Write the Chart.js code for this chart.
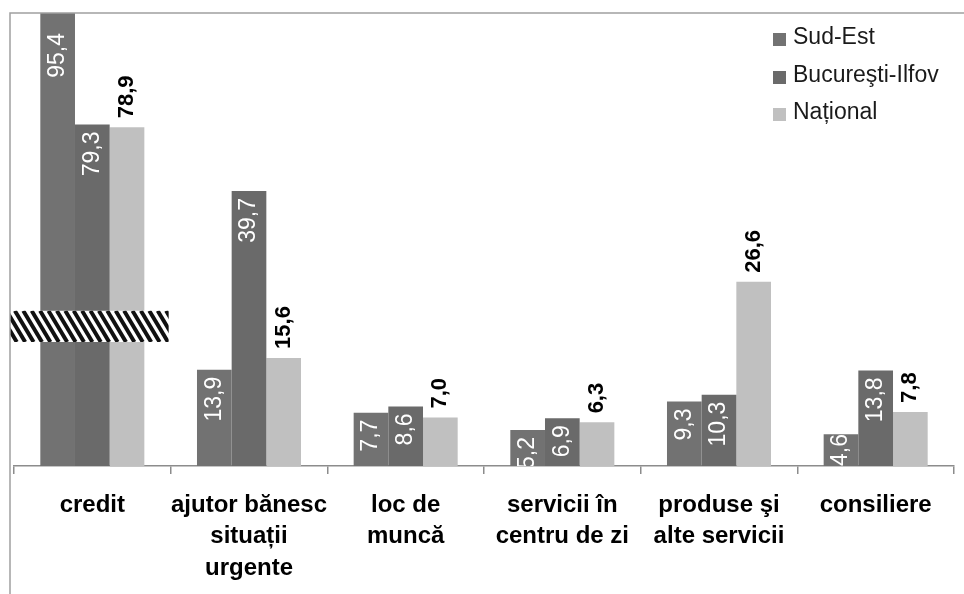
<!DOCTYPE html>
<html>
<head>
<meta charset="utf-8">
<script src="https://cdn.jsdelivr.net/npm/chart.js@4.4.1/dist/chart.umd.min.js"></script>
<style>
  html, body { margin: 0; padding: 0; background: #ffffff; }
  #wrap { width: 964px; height: 594px; position: relative; }
</style>
</head>
<body>
<div id="wrap"><canvas id="c" width="964" height="594"></canvas></div>
<script>
// ---- data ----
const categories = [
  ["credit"],
  ["ajutor bănesc", "situații", "urgente"],
  ["loc de", "muncă"],
  ["servicii în", "centru de zi"],
  ["produse şi", "alte servicii"],
  ["consiliere"]
];
const seriesNames = ["Sud-Est", "Bucureşti-Ilfov", "Național"];
const sudEst    = [95.4, 13.9, 7.7, 5.2, 9.3, 4.6];
const bucuresti = [79.3, 39.7, 8.6, 6.9, 10.3, 13.8];
const national  = [78.9, 15.6, 7.0, 6.3, 26.6, 7.8];
// broken axis: the "credit" bars are drawn shortened by this amount
const brokenCategory = 0;
const breakOffset = 30;
const breakBand = [17.9, 22.4];
const axisMax = 65.4;

const colors = ["#727272", "#6a6a6a", "#c0c0c0"];

function shown(arr) {
  return arr.map((v, i) => i === brokenCategory ? v - breakOffset : v);
}
function fmt(v) { return v.toFixed(1).replace('.', ','); }

const realValues = [sudEst, bucuresti, national];

const framePlugin = {
  id: 'frame',
  afterDraw(chart) {
    const ctx = chart.ctx;
    const a = chart.chartArea;
    ctx.save();
    ctx.strokeStyle = '#a0a0a0';
    ctx.lineWidth = 1.5;
    ctx.beginPath();
    ctx.moveTo(a.left - 4, chart.height);
    ctx.lineTo(a.left - 4, a.top);
    ctx.lineTo(chart.width, a.top);
    ctx.stroke();
    ctx.restore();
  }
};

const hatchPlugin = {
  id: 'hatch',
  afterDatasetsDraw(chart) {
    const ctx = chart.ctx;
    const y = chart.scales.y, x = chart.scales.x;
    const a = chart.chartArea;
    const yTop = y.getPixelForValue(breakBand[1]);
    const yBot = y.getPixelForValue(breakBand[0]);
    const xL = a.left - 4;
    const xR = (x.getPixelForValue(brokenCategory) + x.getPixelForValue(brokenCategory + 1)) / 2 - 2;
    ctx.save();
    ctx.beginPath();
    ctx.rect(xL, yTop, xR - xL, yBot - yTop);
    ctx.fillStyle = '#ffffff';
    ctx.fill();
    ctx.clip();
    ctx.strokeStyle = '#111111';
    ctx.lineWidth = 4;
    const h = yBot - yTop;
    const dx = h * 0.6;
    for (let sx = xL - dx - 10; sx < xR + 10; sx += 8.4) {
      ctx.beginPath();
      ctx.moveTo(sx, yTop);
      ctx.lineTo(sx + dx, yBot);
      ctx.stroke();
    }
    ctx.restore();
  }
};

const labelPlugin = {
  id: 'barLabels',
  afterDatasetsDraw(chart) {
    const ctx = chart.ctx;
    const a = chart.chartArea;
    chart.data.datasets.forEach((ds, di) => {
      const meta = chart.getDatasetMeta(di);
      meta.data.forEach((bar, i) => {
        const real = realValues[di][i];
        const txt = fmt(real);
        ctx.save();
        if (di < 2) {
          ctx.beginPath();
          ctx.rect(a.left, a.top, a.right - a.left, a.bottom - a.top);
          ctx.clip();
          ctx.font = '23px "Liberation Sans", Arial, sans-serif';
          ctx.fillStyle = '#ffffff';
          ctx.textBaseline = 'middle';
          const top = Math.max(bar.y, a.top);
          const h = bar.base - bar.y;
          const w = ctx.measureText(txt).width;
          let anchor;
          if (bar.y <= a.top + 1) anchor = top + 20;
          else if (h < 34) anchor = bar.y + h / 2 - w / 2;
          else anchor = top + 7;
          ctx.translate(bar.x, anchor);
          ctx.rotate(-Math.PI / 2);
          ctx.textAlign = 'right';
          ctx.fillText(txt, 0, 0);
        } else {
          ctx.font = 'bold 22px "Liberation Sans", Arial, sans-serif';
          ctx.fillStyle = '#000000';
          ctx.textBaseline = 'middle';
          ctx.translate(bar.x, bar.y - 9);
          ctx.rotate(-Math.PI / 2);
          ctx.textAlign = 'left';
          ctx.fillText(txt, 0, 0);
        }
        ctx.restore();
      });
    });
  }
};

const legendPlugin = {
  id: 'customLegend',
  afterDraw(chart) {
    const ctx = chart.ctx;
    const a = chart.chartArea;
    const bx = a.right - 181;
    const rows = [38, 76, 113];
    ctx.save();
    ctx.font = '23px "Liberation Sans", Arial, sans-serif';
    ctx.textBaseline = 'middle';
    ctx.textAlign = 'left';
    chart.data.datasets.forEach((ds, i) => {
      const cy = rows[i];
      ctx.fillStyle = ds.backgroundColor;
      ctx.fillRect(bx, cy - 5, 13, 13);
      ctx.fillStyle = '#1a1a1a';
      ctx.fillText(ds.label, bx + 20, cy);
    });
    ctx.restore();
  }
};

new Chart(document.getElementById('c'), {
  type: 'bar',
  data: {
    labels: categories,
    datasets: [
      { label: seriesNames[0], data: shown(sudEst), backgroundColor: colors[0] },
      { label: seriesNames[1], data: shown(bucuresti), backgroundColor: colors[1] },
      { label: seriesNames[2], data: shown(national), backgroundColor: colors[2] }
    ]
  },
  options: {
    responsive: false,
    animation: false,
    devicePixelRatio: 1,
    layout: { padding: { left: 14, right: 10, top: 13, bottom: 0 } },
    datasets: { bar: { categoryPercentage: 0.664, barPercentage: 1.0, borderWidth: 0 } },
    plugins: {
      legend: { display: false },
      tooltip: { enabled: false },
      title: { display: false }
    },
    scales: {
      y: { display: false, min: 0, max: axisMax },
      x: {
        offset: true,
        grid: { display: true, offset: true, drawOnChartArea: false, drawTicks: true, tickLength: 8, color: '#8c8c8c', lineWidth: 1.5 },
        border: { display: true, color: '#8c8c8c', width: 1.5 },
        ticks: {
          maxRotation: 0, minRotation: 0, autoSkip: false, padding: 16,
          color: '#000000',
          font: { family: '"Liberation Sans", Arial, sans-serif', size: 24, weight: 'bold', lineHeight: 1.3 }
        },
        afterFit(scale) { scale.height = 128; }
      }
    }
  },
  plugins: [labelPlugin, hatchPlugin, framePlugin, legendPlugin]
});
</script>
</body>
</html>
